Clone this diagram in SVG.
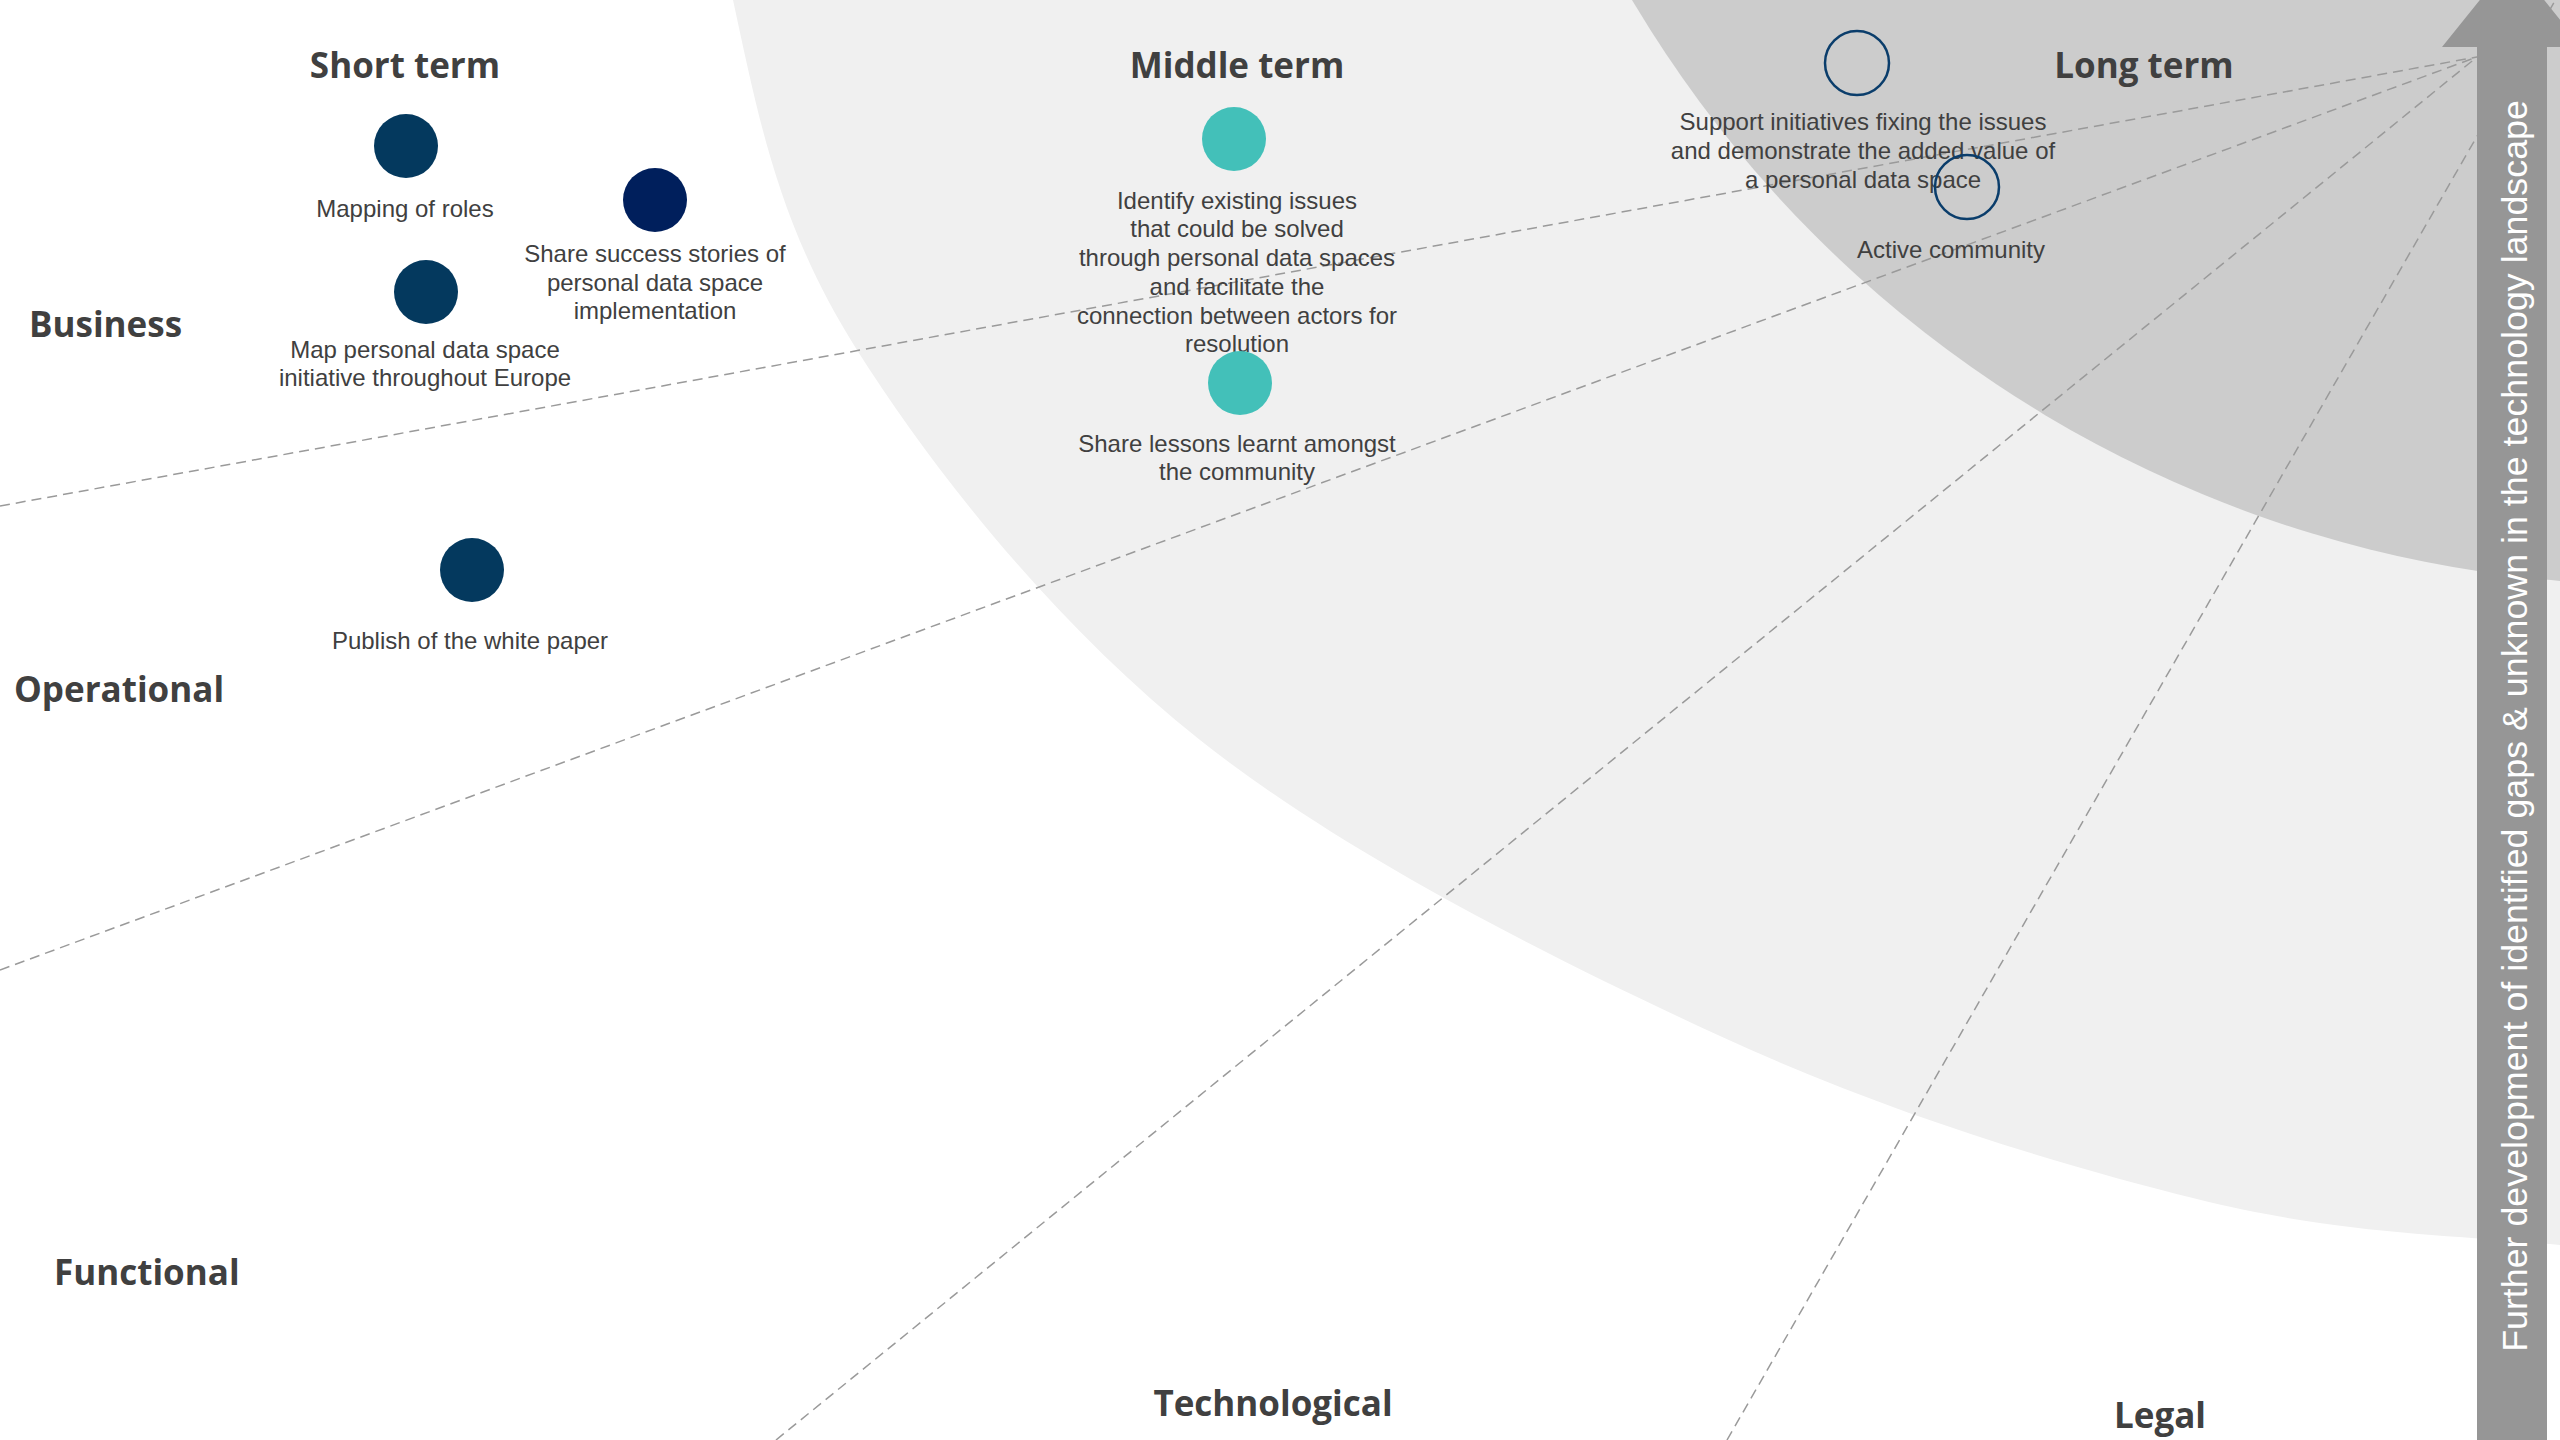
<svg xmlns="http://www.w3.org/2000/svg" width="2560" height="1440" viewBox="0 0 2560 1440">
<style>
.head{font-family:"Open Sans","Liberation Sans",sans-serif;font-weight:700;font-size:35px;fill:#404040}
.lbl{font-family:"Liberation Sans",Arial,sans-serif;font-size:24px;fill:#404040;text-anchor:middle}
.c{text-anchor:middle}
.dark{fill:#04395E}
.navy{fill:#001F5C}
.teal{fill:#43C0B9}
.ring{fill:none;stroke:#0A3D6B;stroke-width:2.5}
.dash{fill:none;stroke:#9A9A9A;stroke-width:1.5;stroke-dasharray:10 6}
</style>
<rect width="2560" height="1440" fill="#FFFFFF"/>
<g id="bands">
<path d="M733,0 C759.7,123.3 779.2,226.7 857,350 C934.8,473.3 1056.2,625.7 1200,740 C1343.8,854.3 1553.8,959.5 1720,1036 C1886.2,1112.5 2057,1164.2 2197,1199 C2337,1233.8 2439,1233.7 2560,1245 L2560,0 Z" fill="#F0F0F0"/>
<circle cx="2659" cy="-609" r="1194" fill="#CCCCCC"/>
</g>
<g id="connectors">
<line class="dash" x1="0" y1="506" x2="2477" y2="57"/>
<line class="dash" x1="0" y1="970" x2="2477" y2="57"/>
<line class="dash" x1="776" y1="1440" x2="2477" y2="57"/>
<line class="dash" x1="1727" y1="1440" x2="2560" y2="-8"/>
</g>
<g id="headings">
<text class="head c" x="405" y="78">Short term</text>
<text class="head c" x="1237" y="78">Middle term</text>
<text class="head c" x="2144" y="78">Long term</text>
<text class="head" x="29" y="337">Business</text>
<text class="head" x="14" y="702">Operational</text>
<text class="head" x="54" y="1285">Functional</text>
<text class="head c" x="1273" y="1416">Technological</text>
<text class="head c" x="2160" y="1428">Legal</text>
</g>
<g id="node-mapping-roles">
<circle class="dark" cx="406" cy="146" r="32"/>
<text class="lbl" x="405" y="217">Mapping of roles</text>
</g>
<g id="node-share-success">
<circle class="navy" cx="655" cy="200" r="32"/>
<text class="lbl" x="655" y="262">Share success stories of</text>
<text class="lbl" x="655" y="291">personal data space</text>
<text class="lbl" x="655" y="319">implementation</text>
</g>
<g id="node-map-initiative">
<circle class="dark" cx="426" cy="292" r="32"/>
<text class="lbl" x="425" y="358">Map personal data space</text>
<text class="lbl" x="425" y="386">initiative throughout Europe</text>
</g>
<g id="node-white-paper">
<circle class="dark" cx="472" cy="570" r="32"/>
<text class="lbl" x="470" y="649">Publish of the white paper</text>
</g>
<g id="node-identify-issues">
<circle class="teal" cx="1234" cy="139" r="32"/>
<text class="lbl" x="1237" y="209">Identify existing issues</text>
<text class="lbl" x="1237" y="237">that could be solved</text>
<text class="lbl" x="1237" y="266">through personal data spaces</text>
<text class="lbl" x="1237" y="295">and facilitate the</text>
<text class="lbl" x="1237" y="324">connection between actors for</text>
<text class="lbl" x="1237" y="352">resolution</text>
</g>
<g id="node-lessons">
<circle class="teal" cx="1240" cy="383" r="32"/>
<text class="lbl" x="1237" y="452">Share lessons learnt amongst</text>
<text class="lbl" x="1237" y="480">the community</text>
</g>
<g id="node-support-initiatives">
<circle class="ring" cx="1857" cy="63" r="32"/>
<text class="lbl" x="1863" y="130">Support initiatives fixing the issues</text>
<text class="lbl" x="1863" y="159">and demonstrate the added value of</text>
<text class="lbl" x="1863" y="188">a personal data space</text>
</g>
<g id="node-active-community">
<circle class="ring" cx="1967" cy="187" r="32"/>
<text class="lbl" x="1951" y="258">Active community</text>
</g>
<g id="arrow">
<path d="M2477,1440 L2477,47 L2442,47 L2512,-40 L2582,47 L2547,47 L2547,1440 Z" fill="#969696"/>
<text transform="translate(2527,726) rotate(-90)" text-anchor="middle" font-family="Liberation Sans, Arial, sans-serif" font-size="35.8" fill="#FFFFFF">Further development of identified gaps &amp; unknown in the technology landscape</text>
</g>
</svg>
